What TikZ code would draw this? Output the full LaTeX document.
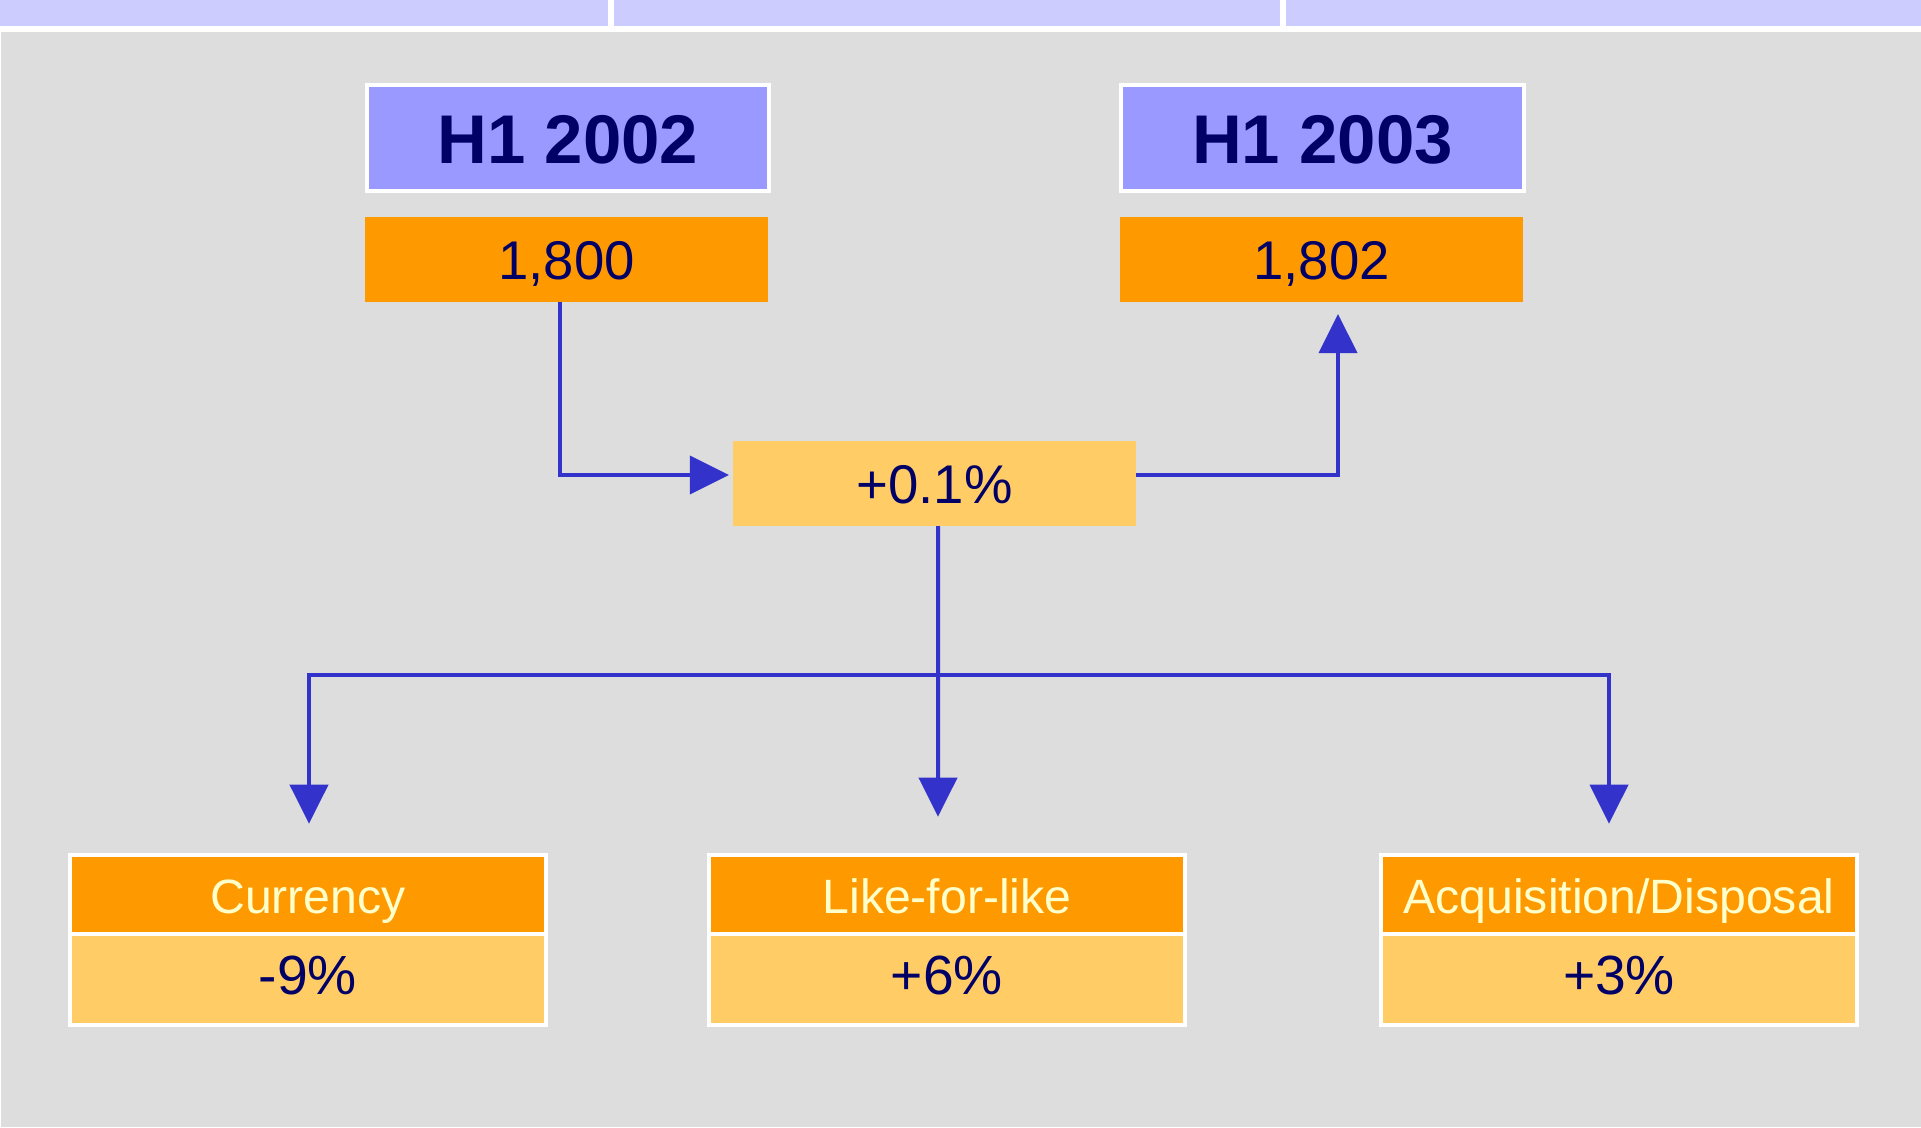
\documentclass[tikz,border=0pt]{standalone}
\usepackage{fontspec}
\setmainfont{Liberation Sans}
\usetikzlibrary{
arrows.meta,
positioning,
}
\definecolor{bggrey}{HTML}{DDDDDD}
\definecolor{barblue}{HTML}{CCCCFF}
\definecolor{yearblue}{HTML}{9999FF}
\definecolor{darkorange}{HTML}{FF9900}
\definecolor{lightorange}{HTML}{FFCC66}
\definecolor{navy}{HTML}{000066}
\definecolor{pale}{HTML}{FFFFCC}
\definecolor{linkblue}{HTML}{3333CC}
\tikzset{
outer sep=0pt,
every node/.style={align=center, inner sep=0pt},
year/.style={rectangle, draw=white, line width=0.04cm, fill=yearblue, text=navy,
  minimum width=4.02cm, minimum height=1.06cm, text height=0.5cm, text depth=0pt,
  font=\fontsize{19.6}{23}\selectfont\bfseries},
total/.style={rectangle, fill=darkorange, text=navy,
  minimum width=4.03cm, minimum height=0.85cm, text height=0.392cm, text depth=0pt,
  font=\fontsize{15.5}{18}\selectfont},
change/.style={total, fill=lightorange},
factor/.style={rectangle, draw=white, line width=0.04cm, fill=darkorange, text=pale,
  minimum width=4.76cm, minimum height=0.795cm, text height=0.385cm, text depth=0pt,
  font=\fontsize{13.7}{16}\selectfont},
share/.style={factor, fill=lightorange, text=navy, minimum height=0.905cm,
  text height=0.397cm, text depth=0.1cm, font=\fontsize{15.7}{18}\selectfont},
link/.style={draw=linkblue, line width=0.04cm, -{Triangle[length=0.39cm, width=0.38cm]}},
}

\begin{document}
\begin{tikzpicture}[x=0.01cm, y=-0.01cm]
    \useasboundingbox (0,0) rectangle (1921,1127);
    \fill[white] (0,0) rectangle (1921,1127);
    \fill[bggrey] (1,32) rectangle (1921,1127);
    \fill[barblue] (0,0) rectangle (608,26);
    \fill[barblue] (614,0) rectangle (1280,26);
    \fill[barblue] (1286,0) rectangle (1921,26);

    \node (y02) [year] at (568,138) {H1 2002};
    \node (v02) [total] at (566.5,259.5) {1,800};
    \node (y03) [year] at (1322.5,138) {H1 2003};
    \node (v03) [total] at (1321.5,259.5) {1,802};
    \node (tot) [change] at (934.5,483.5) {+0.1\%};

    \node (cur) [factor] at (308,894.5) {Currency};
    \node (curv) [share, below=0pt of cur] {-9\%};
    \node (lfl) [factor] at (947,894.5) {Like-for-like};
    \node (lflv) [share, below=0pt of lfl] {+6\%};
    \node (acq) [factor] at (1619,894.5) {Acquisition/Disposal};
    \node (acqv) [share, below=0pt of acq] {+3\%};

    \coordinate (fork) at (938,675);

    \draw[link, shorten >=0.04cm] ([xshift=-0.065cm]v02.south) |- ([yshift=0.085cm]tot.west);
    \draw[link, shorten >=0.12cm] ([yshift=0.085cm]tot.east) -| ([xshift=0.165cm]v03.south);
    \draw[link, shorten >=0.38cm] ([xshift=0.035cm]tot.south) -- ([xshift=-0.09cm]lfl.north);
    \draw[link, shorten >=0.31cm] (fork) -| ([xshift=0.01cm]cur.north);
    \draw[link, shorten >=0.31cm] (fork) -| ([xshift=-0.1cm]acq.north);
\end{tikzpicture}
\end{document}
